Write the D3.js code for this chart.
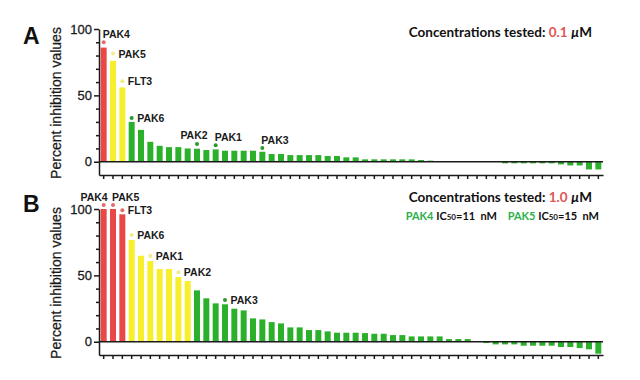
<!DOCTYPE html>
<html>
<head>
<meta charset="utf-8">
<title>Percent inhibition values</title>
<script src="https://d3js.org/d3.v7.min.js"></script>
<style>
  body { margin: 0; background: #fff; }
  svg { display: block; font-family: "Liberation Sans", Arial, sans-serif; }
  .bar-label { font-size: 10.5px; font-weight: bold; fill: #1a1a1a; }
  .conc { font-family: Lato, "Open Sans", sans-serif; font-weight: bold; fill: #111; }
</style>
</head>
<body>
<svg width="640" height="380"></svg>
<script>
// 54 kinases, sorted by inhibition
const valuesA = [86, 76, 56, 30, 24, 15, 12, 11, 11, 10,
                 9.8, 8.8, 9.3, 8.3, 8.3, 8.3, 8.3, 7.5, 5.8, 5.8,
                 5, 5, 5, 5, 4.3, 4.3, 3.3, 3.3, 1.8, 1.8,
                 1.8, 1.8, 1.8, 1.8, 1.3, 0.8, 0.5, 0.5, 0.2, 0,
                 0, 0, 0, -1.2, -1.2, -1.2, -1.2, -1.2, -1.2, -2,
                 -2.8, -2.8, -5.8, -5.8];
const valuesB = [100, 100, 96, 76.6, 64.8, 60.8, 54.8, 54.8, 48.8, 45.7,
                 38.7, 32.7, 28.9, 28.2, 24.9, 23.6, 17.6, 16.8, 14.8, 13.8,
                 10.8, 10.8, 8.8, 8.8, 7.8, 6.8, 6.8, 6.8, 6.5, 6,
                 6, 5, 5, 4, 4, 4, 4, 2, 2, 2,
                 0.3, -1, -2, -2, -2, -3, -3, -3, -3, -4,
                 -4, -4.8, -5.7, -9];

// labelled kinases: name, bar index, replicate dot value
const labelsA = ["PAK4", "PAK5", "FLT3", "PAK6", "PAK2", "PAK1", "PAK3"];
const labelBarsA = [0, 1, 2, 3, 10, 12, 17];
const dotsA = [90, 81.5, 60.7, 33, 13.3, 12.5, 10.3];

const labelsB = ["PAK4", "PAK5", "FLT3", "PAK6", "PAK1", "PAK2", "PAK3"];
const labelBarsB = [0, 1, 2, 3, 5, 8, 13];
const dotsB = [103, 103, 99, 80.4, 64.6, 52.3, 31.4];

const majorTicks = [0, 50, 100];
const minorTicks = [10, 20, 30, 40, 60, 70, 80, 90];

const red = "#ea4747", yellow = "#f7ef2b", green = "#2bb02b";
const tier = d3.scaleThreshold().domain([40, 80]).range([green, yellow, red]);
const dotTier = d3.scaleThreshold().domain([40, 80]).range(["#2a9a2a", "#f2ec86", "#e46a6a"]);

const svg = d3.select("svg");
svg.append("rect").attr("width", 640).attr("height", 380).attr("fill", "#fff");

const x = d3.scaleBand()
    .domain(d3.range(valuesA.length))
    .range([99, 603])
    .paddingInner(0.36)
    .paddingOuter(0.18);

// label placement: r = right of dot, a = above (start), c = above centred, e = above (end)
const placeA = ["a", "r", "r", "r", "c", "a", "a"];
const placeB = ["e", "a", "r", "r", "r", "r", "r"];

function drawPanel(p) {
    const g = svg.append("g");
    const y = d3.scaleLinear().domain([-10, 100]).range([p.bottom, p.top]);

    g.append("g").selectAll("rect")
        .data(p.values)
        .join("rect")
        .attr("x", (d, i) => x(i))
        .attr("width", x.bandwidth())
        .attr("y", d => y(Math.max(0, d)))
        .attr("height", d => Math.abs(y(d) - y(0)))
        .attr("fill", d => tier(d));

    // zero line
    g.append("line")
        .attr("x1", 99).attr("x2", 603)
        .attr("y1", y(0)).attr("y2", y(0))
        .attr("stroke", "#1a1a1a").attr("stroke-width", 1.6);

    // y axis
    const yAxis = g.append("g")
        .attr("transform", "translate(99,0)")
        .call(d3.axisLeft(y).tickValues(majorTicks).tickSize(5).tickSizeOuter(0));
    yAxis.selectAll("text")
        .attr("font-family", "Liberation Sans, Arial, sans-serif")
        .attr("font-size", 13).attr("fill", "#1a1a1a").attr("x", -7)
        .attr("stroke", "#1a1a1a").attr("stroke-width", 0.3);
    g.append("g")
        .attr("transform", "translate(99,0)")
        .call(d3.axisLeft(y).tickValues(minorTicks).tickSize(3).tickFormat(""))
        .select(".domain").remove();
    g.selectAll(".domain, .tick line").attr("stroke", "#1a1a1a").attr("stroke-width", 1.5);

    // x axis
    g.append("g")
        .attr("transform", `translate(0,${y(-10)})`)
        .call(d3.axisBottom(x).tickSize(4).tickSizeOuter(0).tickFormat(""))
        .call(a => a.selectAll("path, line").attr("stroke", "#1a1a1a").attr("stroke-width", 1.5));

    // replicate dots + names
    p.bars.forEach((b, k) => {
        const cx = x(b) + x.bandwidth() / 2, cy = y(p.dots[k]);
        g.append("circle").attr("cx", cx).attr("cy", cy).attr("r", 2)
            .attr("fill", dotTier(p.values[b]));
        const t = g.append("text").attr("class", "bar-label").text(p.names[k]);
        const pl = p.place[k];
        if (pl === "r") t.attr("x", cx + 5.5).attr("y", cy + 4);
        else if (pl === "a") t.attr("x", cx - 1).attr("y", cy - 4.5);
        else if (pl === "c") t.attr("x", cx - 3).attr("y", cy - 5.5).attr("text-anchor", "middle");
        else t.attr("x", cx + 4).attr("y", cy - 4.5).attr("text-anchor", "end");
    });

    // y title
    g.append("text")
        .attr("transform", `translate(61,${(p.top + p.bottom) / 2 + 1}) rotate(-90)`)
        .attr("text-anchor", "middle")
        .attr("font-size", 14).attr("fill", "#1a1a1a")
        .attr("stroke", "#1a1a1a").attr("stroke-width", 0.25)
        .text("Percent inhibition values");

    // panel letter
    g.append("text")
        .attr("x", 23).attr("y", p.letterY)
        .attr("font-size", 23).attr("font-weight", "bold").attr("fill", "#111")
        .text(p.letter);

    // concentration
    const c = g.append("text").attr("class", "conc")
        .attr("x", 592).attr("y", p.concY).attr("text-anchor", "end")
        .attr("font-size", 13.5);
    c.append("tspan").text("Concentrations tested: ");
    c.append("tspan").attr("fill", "#e05555").text(p.conc);
    c.append("tspan").text(" ");
    c.append("tspan").attr("font-style", "italic").text("\u00b5");
    c.append("tspan").text("M");
    return g;
}

drawPanel({ values: valuesA, top: 29, bottom: 175, letter: "A", letterY: 43.5,
    conc: "0.1", concY: 36.7, bars: labelBarsA, dots: dotsA, names: labelsA, place: placeA });
const gB = drawPanel({ values: valuesB, top: 209, bottom: 355, letter: "B", letterY: 211.5,
    conc: "1.0", concY: 202.3, bars: labelBarsB, dots: dotsB, names: labelsB, place: placeB });

// IC50 line
const ic = gB.append("text").attr("class", "conc")
    .attr("x", 599).attr("y", 219.5).attr("text-anchor", "end")
    .attr("font-size", 11).style("white-space", "pre");
[["PAK4", 1], [" IC", 0], ["50", 2], ["=11  nM    ", 0], ["PAK5", 1], [" IC", 0], ["50", 2], ["=15  nM", 0]]
    .forEach(([s, kind]) => {
        const t = ic.append("tspan").text(s);
        if (kind === 1) t.attr("fill", "#2bb04a");
        if (kind === 2) t.attr("font-size", 8);
    });
</script>
</body>
</html>
